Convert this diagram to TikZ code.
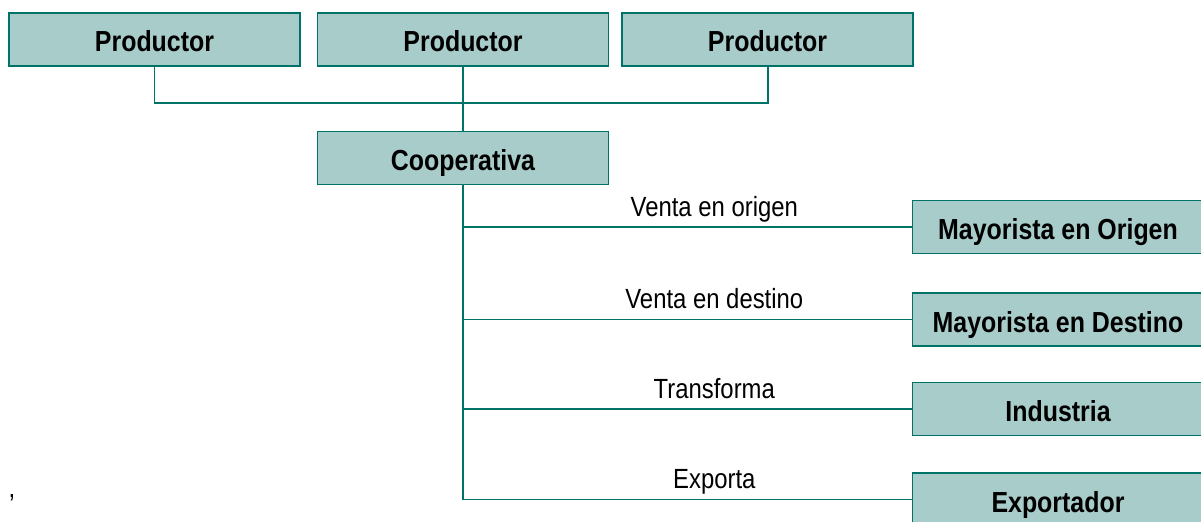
\documentclass[tikz,border=0pt]{standalone}
\usepackage{fontspec}
\setmainfont{Liberation Sans}[FakeStretch=0.86]
\usepackage{tikz}
\usetikzlibrary{positioning}
\definecolor{verdeclaro}{RGB}{168,204,202}
\definecolor{verde}{RGB}{0,115,105}
\tikzset{x=0.02cm, y=-0.02cm,
	caja/.style={rectangle, draw=verde, fill=verdeclaro, line width=0.9pt, minimum width=5.82cm, inner sep=0pt, text height=0.78cm, text depth=0.28cm, font=\fontsize{16.5}{18}\selectfont\bfseries},
	linea/.style={draw=verde, line width=1.1pt},
	etiqueta/.style={anchor=base, yshift=6.2pt, inner sep=0pt, font=\fontsize{15.8}{18}\selectfont}}

\begin{document}
\begin{tikzpicture}
	\useasboundingbox (0,0) rectangle (1201,521);
	\node[caja] (Productor A) at (154.5,39.5) {Productor};
	\node[caja, right=0.32cm of Productor A] (Productor B) {Productor};
	\node[caja, right=0.24cm of Productor B] (Productor C) {Productor};
	\node[caja, below=1.28cm of Productor B] (Cooperativa) {Cooperativa};
	\coordinate (Union) at (Productor B.south |- 0,103);

	\node[caja] (Mayorista Origen) at (1058,227) {Mayorista en Origen};
	\node[caja] (Mayorista Destino) at (1058,319.5) {Mayorista en Destino};
	\node[caja] (Industria) at (1058,409) {Industria};
	\node[caja] (Exportador) at (1058,499.5) {Exportador};
	\node[anchor=base, inner sep=0pt, font=\fontsize{15.8}{18}\selectfont] (coma) at (12,497) {,};

	\draw[linea]	(Productor A.south) |- (Union) -| (Productor C.south)
				(Productor B.south) -- (Cooperativa.north);
	\draw[linea]	(Cooperativa.south) |- node[etiqueta, pos=0.78]{Venta en origen} (Mayorista Origen.west)
				(Cooperativa.south) |- node[etiqueta, pos=0.78]{Venta en destino} (Mayorista Destino.west)
				(Cooperativa.south) |- node[etiqueta, pos=0.78]{Transforma} (Industria.west)
				(Cooperativa.south) |- node[etiqueta, pos=0.78]{Exporta} (Exportador.west);
\end{tikzpicture}
\end{document}
